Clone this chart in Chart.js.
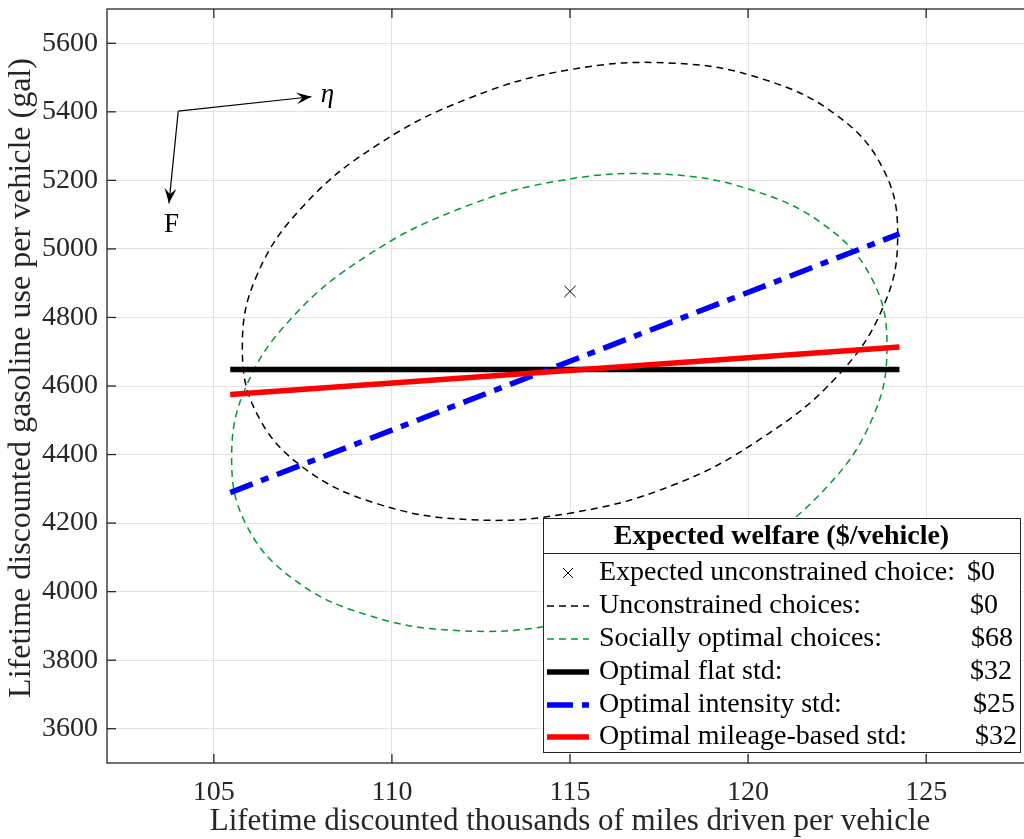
<!DOCTYPE html>
<html>
<head>
<meta charset="utf-8">
<script src="https://cdn.jsdelivr.net/npm/chart.js@4.4.0/dist/chart.umd.min.js"></script>
<style>
html, body { margin: 0; padding: 0; background: #fff; overflow: hidden; }
canvas { display: block; }
</style>
</head>
<body>
<canvas id="chart" width="1045" height="839"></canvas>
<script>
// axis ticks
const xTicks = [105, 110, 115, 120, 125];
const yTicks = [3600, 3800, 4000, 4200, 4400, 4600, 4800, 5000, 5200, 5400, 5600];

// unconstrained choices (black dashed ellipse), closed loop
const unconX = [124.2, 123.8, 122.5, 120.4, 117.9, 115.0, 112.2, 109.6, 107.5, 106.2, 105.8, 106.2, 107.5, 109.6, 112.2, 115.0, 117.9, 120.4, 122.5, 123.8, 124.2];
const unconY = [5040, 5232, 5389, 5496, 5542, 5523, 5441, 5304, 5124, 4921, 4713, 4521, 4363, 4256, 4210, 4229, 4311, 4449, 4628, 4832, 5040];

// socially optimal choices (green dashed ellipse), closed loop
const socialX = [117.6, 120.1, 122.2, 123.5, 123.9, 123.5, 122.2, 120.1, 117.6, 114.7, 111.9, 109.3, 107.2, 105.9, 105.5, 105.9, 107.2, 109.3, 111.9, 114.7, 117.6];
const socialY = [3987, 4125, 4304, 4508, 4716, 4908, 5065, 5172, 5218, 5199, 5117, 4980, 4800, 4597, 4389, 4197, 4039, 3932, 3886, 3905, 3987];

// standards
const stdX = [105.46, 124.25];
const flatY = [4648, 4648];
const intensityY = [4289, 5044];
const mileageY = [4575, 4714];
const expectedChoice = [115.0, 4876];

// arrow annotation (data coords)
const arrowCorner = [104.0, 5402];
const etaTip = [107.74, 5444];
const fTip = [103.74, 5133];
const etaLabel = [108.0, 5428];
const fLabel = [103.81, 5049];

// legend
const legendTitle = 'Expected welfare ($/vehicle)';
const legendLabels = ['Expected unconstrained choice:', 'Unconstrained choices:', 'Socially optimal choices:', 'Optimal flat std:', 'Optimal intensity std:', 'Optimal mileage-based std:'];
const legendValues = ['$0', '$0', '$68', '$32', '$25', '$32'];

const SERIF = '"Liberation Serif", "Times New Roman", serif';
const AXIS_GRAY = '#262626';
const GREEN = '#009933';

const pts = (xs, ys) => xs.map((x, i) => ({ x: x, y: ys[i] }));

// closed loop: wrap one point on each side so the spline has no corner at the seam
function loop(xs, ys) {
    const p = pts(xs, ys), n = p.length;
    return [p[n - 2]].concat(p, [p[1]]);
}
const hideWrap = ctx => {
    const n = ctx.chart.data.datasets[ctx.datasetIndex].data.length;
    return (ctx.p0DataIndex === 0 || ctx.p1DataIndex === n - 1) ? 'rgba(0,0,0,0)' : undefined;
};

function line(ctx, x0, y0, x1, y1) {
    ctx.beginPath(); ctx.moveTo(x0, y0); ctx.lineTo(x1, y1); ctx.stroke();
}

function arrow(ctx, x0, y0, x1, y1) {
    line(ctx, x0, y0, x1, y1);
    const a = Math.atan2(y1 - y0, x1 - x0), c = Math.cos(a), s = Math.sin(a);
    const L = 15, W = 6;
    ctx.beginPath();
    ctx.moveTo(x1, y1);
    ctx.lineTo(x1 - L * c + W * s, y1 - L * s - W * c);
    ctx.lineTo(x1 - 0.6 * L * c, y1 - 0.6 * L * s);
    ctx.lineTo(x1 - L * c - W * s, y1 - L * s + W * c);
    ctx.closePath();
    ctx.fill();
}

const framePlugin = {
    id: 'frame',
    afterDatasetsDraw(chart) {
        const ctx = chart.ctx, a = chart.chartArea, sx = chart.scales.x, sy = chart.scales.y;
        const px = v => sx.getPixelForValue(v), py = v => sy.getPixelForValue(v);
        ctx.save();

        // arrows
        ctx.strokeStyle = '#000'; ctx.fillStyle = '#000'; ctx.lineWidth = 1.2;
        arrow(ctx, px(arrowCorner[0]), py(arrowCorner[1]), px(etaTip[0]), py(etaTip[1]));
        arrow(ctx, px(arrowCorner[0]), py(arrowCorner[1]), px(fTip[0]), py(fTip[1]));
        ctx.textBaseline = 'alphabetic';
        ctx.textAlign = 'left';
        ctx.font = 'italic 27px ' + SERIF;
        ctx.fillText('\u03b7', px(etaLabel[0]), py(etaLabel[1]));
        ctx.textAlign = 'center';
        ctx.font = '27px ' + SERIF;
        ctx.fillText('F', px(fLabel[0]), py(fLabel[1]));

        // box and inward ticks
        ctx.strokeStyle = AXIS_GRAY; ctx.lineWidth = 1.3;
        ctx.strokeRect(a.left, a.top, a.right - a.left, a.bottom - a.top);
        xTicks.forEach(v => {
            line(ctx, px(v), a.bottom, px(v), a.bottom - 9);
            line(ctx, px(v), a.top, px(v), a.top + 9);
        });
        yTicks.forEach(v => {
            line(ctx, a.left, py(v), a.left + 9, py(v));
            line(ctx, a.right, py(v), a.right - 9, py(v));
        });

        // axis titles
        ctx.fillStyle = AXIS_GRAY;
        ctx.font = '31px ' + SERIF;
        ctx.textAlign = 'center';
        ctx.textBaseline = 'middle';
        ctx.fillText('Lifetime discounted thousands of miles driven per vehicle', (a.left + a.right) / 2, 822);
        ctx.save();
        ctx.translate(22, 378);
        ctx.rotate(-Math.PI / 2);
        ctx.font = '32px ' + SERIF;
        ctx.fillText('Lifetime discounted gasoline use per vehicle (gal)', 0, 0);
        ctx.restore();

        // legend box
        const L = 543, R = 1020, T = 518, B = 752, SEP = 553;
        ctx.fillStyle = '#fff';
        ctx.fillRect(L, T, R - L, B - T);
        ctx.strokeStyle = '#262626'; ctx.lineWidth = 1;
        ctx.strokeRect(L + 0.5, T + 0.5, R - L, B - T);
        line(ctx, L, SEP + 0.5, R, SEP + 0.5);
        ctx.fillStyle = '#000';
        ctx.font = 'bold 28px ' + SERIF;
        ctx.textAlign = 'center';
        ctx.fillText(legendTitle, (L + R) / 2, 537);

        const rowY = [573, 606, 639, 672, 705, 737];
        const valX = [967, 970, 971, 970, 973, 975];
        ctx.font = '28px ' + SERIF;
        ctx.textAlign = 'left';
        legendLabels.forEach((t, i) => {
            ctx.fillText(t, 599, rowY[i]);
            ctx.fillText(legendValues[i], valX[i], rowY[i]);
        });
        // samples
        const s0 = 547, s1 = 589;
        ctx.strokeStyle = '#000'; ctx.lineWidth = 1;
        line(ctx, 563, rowY[0] - 5, 573, rowY[0] + 5);
        line(ctx, 563, rowY[0] + 5, 573, rowY[0] - 5);
        ctx.lineWidth = 1.5; ctx.setLineDash([7, 5]);
        line(ctx, s0, rowY[1], s1, rowY[1]);
        ctx.strokeStyle = GREEN;
        line(ctx, s0, rowY[2], s1, rowY[2]);
        ctx.lineWidth = 5.5;
        ctx.strokeStyle = '#000'; ctx.setLineDash([]);
        line(ctx, s0, rowY[3], s1, rowY[3]);
        ctx.strokeStyle = '#0000ff'; ctx.setLineDash([26, 9, 7, 9]);
        line(ctx, s0, rowY[4], s1, rowY[4]);
        ctx.strokeStyle = '#ff0000'; ctx.setLineDash([]);
        line(ctx, s0, rowY[5], s1, rowY[5]);

        ctx.restore();
    }
};

const tickFont = { family: SERIF, size: 28 };

new Chart(document.getElementById('chart'), {
    type: 'scatter',
    data: {
        datasets: [
            { data: [{ x: expectedChoice[0], y: expectedChoice[1] }], pointStyle: 'crossRot', pointRadius: 8, borderColor: '#000', borderWidth: 1, showLine: false },
            { data: pts(stdX, mileageY), borderColor: '#ff0000', borderWidth: 5.5, pointRadius: 0, showLine: true },
            { data: pts(stdX, intensityY), borderColor: '#0000ff', borderWidth: 5.5, borderDash: [24, 9, 8, 9], pointRadius: 0, showLine: true },
            { data: pts(stdX, flatY), borderColor: '#000', borderWidth: 5.5, pointRadius: 0, showLine: true },
            { data: loop(socialX, socialY), borderColor: GREEN, borderWidth: 1.5, borderDash: [7, 5], pointRadius: 0, showLine: true, tension: 0.4, segment: { borderColor: hideWrap } },
            { data: loop(unconX, unconY), borderColor: '#000', borderWidth: 1.5, borderDash: [7, 5], pointRadius: 0, showLine: true, tension: 0.4, segment: { borderColor: hideWrap } }
        ]
    },
    options: {
        responsive: false,
        animation: false,
        layout: { padding: { top: 3, right: 12, left: 0, bottom: 0 } },
        plugins: { legend: { display: false }, tooltip: { enabled: false } },
        scales: {
            x: {
                type: 'linear', min: 102, max: 128,
                afterBuildTicks: s => { s.ticks = xTicks.map(v => ({ value: v })); },
                afterFit: s => { s.height = 76; s.paddingLeft = 0; s.paddingRight = 0; },
                grid: { color: '#e3e3e3', drawTicks: false },
                border: { display: false },
                ticks: { font: tickFont, color: AXIS_GRAY, padding: 13, maxRotation: 0, callback: v => String(v) }
            },
            y: {
                type: 'linear', min: 3500, max: 5700,
                afterBuildTicks: s => { s.ticks = yTicks.map(v => ({ value: v })); },
                afterFit: s => { s.width = 107; s.paddingTop = 0; s.paddingBottom = 0; },
                grid: { color: '#e3e3e3', drawTicks: false },
                border: { display: false },
                ticks: { font: tickFont, color: AXIS_GRAY, padding: 9, callback: v => String(v) }
            }
        }
    },
    plugins: [framePlugin]
});
</script>
</body>
</html>
